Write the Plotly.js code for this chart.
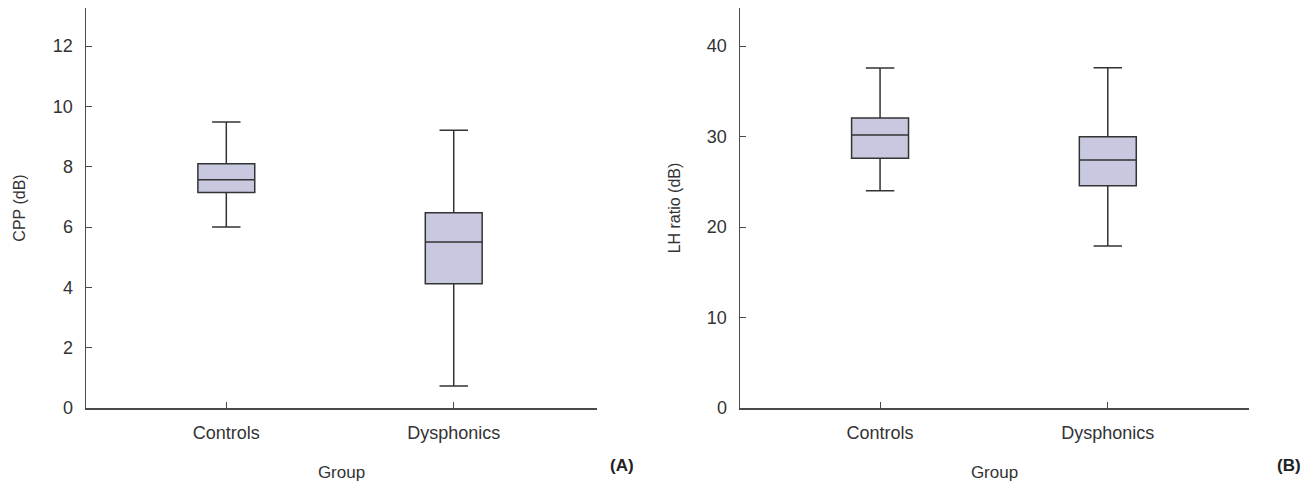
<!DOCTYPE html>
<html>
<head>
<meta charset="utf-8">
<script src="https://cdn.plot.ly/plotly-3.0.1.min.js"></script>
<style>html,body{margin:0;padding:0;background:#fff;}#chart{width:1306px;height:486px;}</style>
</head>
<body>
<div id="chart"></div>
<script>
// Categories
const groups = ["Controls", "Dysphonics"];

// Panel A: CPP (dB)
const cppLower  = [6.0, 0.73];
const cppQ1     = [7.14, 4.12];
const cppMedian = [7.57, 5.50];
const cppQ3     = [8.10, 6.47];
const cppUpper  = [9.48, 9.21];

// Panel B: LH ratio (dB)
const lhLower  = [24.0, 17.9];
const lhQ1     = [27.6, 24.56];
const lhMedian = [30.17, 27.4];
const lhQ3     = [32.04, 29.98];
const lhUpper  = [37.57, 37.6];

const W = 1306;
const fill = "#c8c8e0";
const lineCol = "#333333";
const axisCol = "#4a4a4a";
const fontFam = "Liberation Sans, Arial, sans-serif";

function boxTrace(lo, q1, med, q3, hi, xa, ya) {
  return {
    type: "box",
    x: groups,
    lowerfence: lo, q1: q1, median: med, q3: q3, upperfence: hi,
    xaxis: xa, yaxis: ya,
    fillcolor: fill,
    line: {color: lineCol, width: 1.5},
    width: 0.25,
    whiskerwidth: 0.5,
    boxpoints: false,
    showlegend: false,
    hoverinfo: "skip"
  };
}

const data = [
  boxTrace(cppLower, cppQ1, cppMedian, cppQ3, cppUpper, "x", "y"),
  boxTrace(lhLower, lhQ1, lhMedian, lhQ3, lhUpper, "x2", "y2")
];

const tickFont = {family: fontFam, size: 18, color: "#333"};
const yTitleFont = {family: fontFam, size: 16, color: "#333"};
const xTitleFont = {family: fontFam, size: 17, color: "#333"};

function xAxis(domain, range, anchor) {
  return {
    domain: domain, range: range, anchor: anchor,
    type: "category",
    showline: true, linecolor: axisCol, linewidth: 1.5,
    ticks: "inside", ticklen: 6, tickcolor: axisCol, tickwidth: 1,
    showgrid: false, zeroline: false,
    tickfont: tickFont, ticklabelstandoff: 8,
    title: {text: "Group", font: xTitleFont, standoff: 24},
    fixedrange: true
  };
}
function yAxis(range, dtick, title, anchor, standoff) {
  return {
    range: range, anchor: anchor, dtick: dtick, tick0: 0,
    showline: true, linecolor: axisCol, linewidth: 1.5,
    ticks: "inside", ticklen: 6, tickcolor: axisCol, tickwidth: 1,
    showgrid: false, zeroline: false,
    tickfont: tickFont, ticklabelstandoff: 8,
    title: {text: title, font: yTitleFont, standoff: standoff},
    fixedrange: true
  };
}

const layout = {
  width: W, height: 486,
  margin: {l: 0, r: 0, t: 8, b: 78, autoexpand: false},
  paper_bgcolor: "#fff", plot_bgcolor: "#fff",
  font: {family: fontFam, color: "#333"},
  xaxis: xAxis([86 / W, 597 / W], [-0.617, 1.63], "y"),
  yaxis: yAxis([0, 13.26], 2, "CPP (dB)", "x", 23),
  xaxis2: xAxis([740 / W, 1249 / W], [-0.615, 1.62], "y2"),
  yaxis2: yAxis([0, 44.2], 10, "LH ratio (dB)", "x2", 22),
  annotations: [
    {text: "<b>(A)</b>", xref: "paper", yref: "paper", x: 622 / W, y: -0.1425,
     xanchor: "center", yanchor: "middle", showarrow: false,
     font: {family: fontFam, size: 17, color: "#222"}},
    {text: "<b>(B)</b>", xref: "paper", yref: "paper", x: 1289 / W, y: -0.1425,
     xanchor: "center", yanchor: "middle", showarrow: false,
     font: {family: fontFam, size: 17, color: "#222"}}
  ]
};

Plotly.newPlot("chart", data, layout, {staticPlot: true, displayModeBar: false});
</script>
</body>
</html>
